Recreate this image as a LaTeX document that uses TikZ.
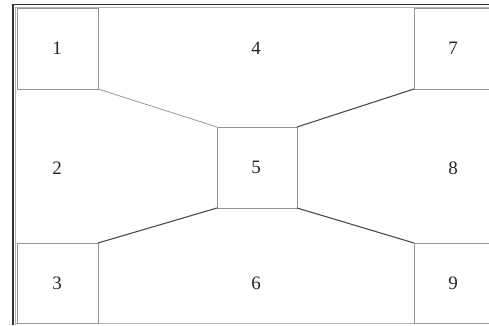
\documentclass[tikz,border=0pt]{standalone}
\usepackage{fontspec}
\setmainfont{Liberation Serif}
\begin{document}
\begin{tikzpicture}[x=1pt,y=-1pt,
  cell/.style={draw=black!42,line width=0.9pt,fill=white},
  lbl/.style={font=\fontsize{19}{19}\selectfont,text=black!85},
  link/.style={draw=black!70,line width=1.1pt},
  linklight/.style={draw=black!40,line width=0.8pt}]
\useasboundingbox (0,0) rectangle (489,325);
\clip (0,0) rectangle (489,325);
% outer frame
\draw[black!80,line width=1.6pt] (13,325) -- (13,4.5) -- (489,4.5);
\draw[black!30,line width=0.6pt] (15.5,325) -- (15.5,7) -- (489,7);
\draw[black!30,line width=0.8pt] (15,323.5) -- (489,323.5);
% corner and centre cells
\coordinate (c1a) at (17,8);   \coordinate (c1b) at (98,89);
\coordinate (c7a) at (414,8);  \coordinate (c7b) at (495,89);
\coordinate (c3a) at (17,243); \coordinate (c3b) at (98,323);
\coordinate (c9a) at (414,243);\coordinate (c9b) at (495,323);
\coordinate (c5a) at (217,127);\coordinate (c5b) at (297,208);
\draw[cell] (c1a) rectangle (c1b);
\draw[cell] (c7a) rectangle (c7b);
\draw[cell] (c3a) rectangle (c3b);
\draw[cell] (c9a) rectangle (c9b);
\draw[cell] (c5a) rectangle (c5b);
% connectors between cell corners
\draw[linklight] (c1b) -- (c5a);
\draw[link] (414,89) -- (297,127);
\draw[link] (98,243) -- (217,208);
\draw[link] (c9a) -- (297,208);
% labels
\node[lbl] (n1) at (57,48) {1};
\node[lbl] (n4) at (256,48) {4};
\node[lbl] (n7) at (453,48) {7};
\node[lbl] (n2) at (57,168) {2};
\node[lbl] (n5) at (256,167) {5};
\node[lbl] (n8) at (453,168) {8};
\node[lbl] (n3) at (57,283) {3};
\node[lbl] (n6) at (256,283) {6};
\node[lbl] (n9) at (453,283) {9};
\end{tikzpicture}
\end{document}
